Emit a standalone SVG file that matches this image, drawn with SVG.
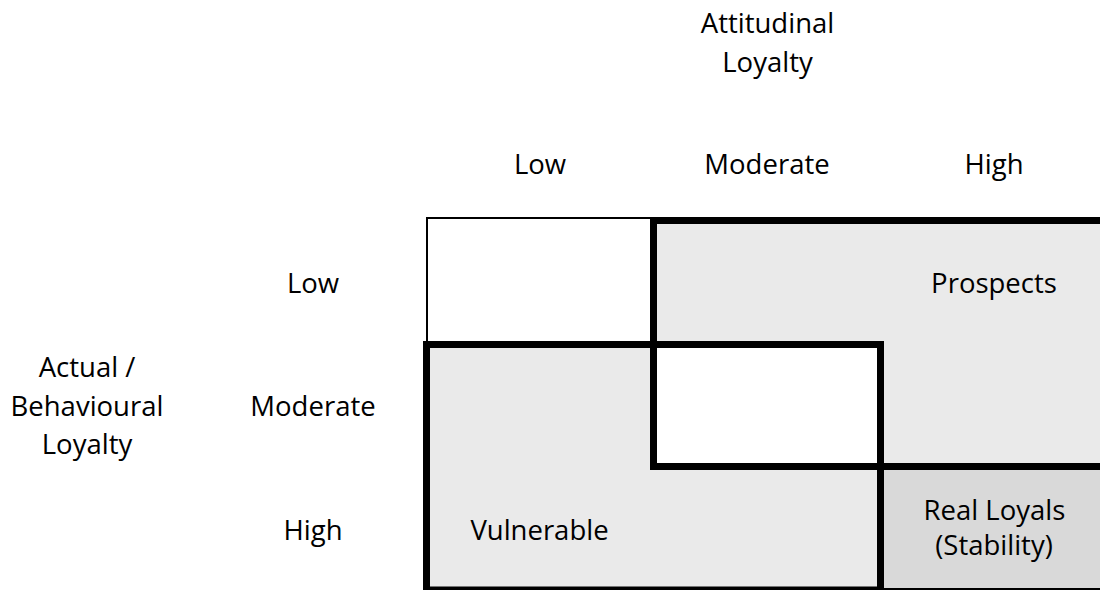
<svg xmlns="http://www.w3.org/2000/svg" width="1100" height="590" viewBox="0 0 1100 590">
  <style>
    text { font-family: "Open Sans", "Liberation Sans", sans-serif; font-size: 27.5px; fill: #000; text-anchor: middle; }
    .thick { fill: none; stroke: #000; stroke-width: 7; }
    .thin { fill: none; stroke: #000; stroke-width: 2; }
    .light { fill: #EAEAEA; stroke: none; }
    .dark { fill: #D9D9D9; stroke: none; }
    .white { fill: #FFFFFF; stroke: none; }
  </style>
  <rect x="0" y="0" width="1100" height="590" fill="#FFFFFF"/>

  <g id="axis-labels">
    <text x="767.5" y="33">Attitudinal</text>
    <text x="767.5" y="72">Loyalty</text>
    <text x="540" y="174">Low</text>
    <text x="767" y="174">Moderate</text>
    <text x="994" y="174">High</text>
    <text x="87" y="377">Actual /</text>
    <text x="87" y="416">Behavioural</text>
    <text x="87" y="454">Loyalty</text>
    <text x="313" y="293">Low</text>
    <text x="313" y="416">Moderate</text>
    <text x="313" y="540">High</text>
  </g>

  <g id="fills">
    <rect class="light" x="653.5" y="220.5" width="460" height="246"/>
    <rect class="light" x="426.5" y="344.5" width="454" height="250"/>
    <rect class="white" x="653.5" y="344.5" width="227" height="122"/>
  </g>

  <g id="real-loyals">
    <rect class="dark" x="880.5" y="466.5" width="230" height="130"/>
    <text x="994.5" y="520">Real Loyals</text>
    <text x="994" y="555">(Stability)</text>
  </g>

  <g id="grid-frame">
    <rect class="thin" x="427" y="218" width="700" height="371"/>
  </g>

  <g id="prospects">
    <rect class="thick" x="653.5" y="220.5" width="460" height="246"/>
    <text x="994" y="293">Prospects</text>
  </g>

  <g id="vulnerable">
    <rect class="thick" x="426.5" y="344.5" width="454" height="245.5"/>
    <text x="539.5" y="540">Vulnerable</text>
  </g>

  <g id="connectors"></g>
</svg>
